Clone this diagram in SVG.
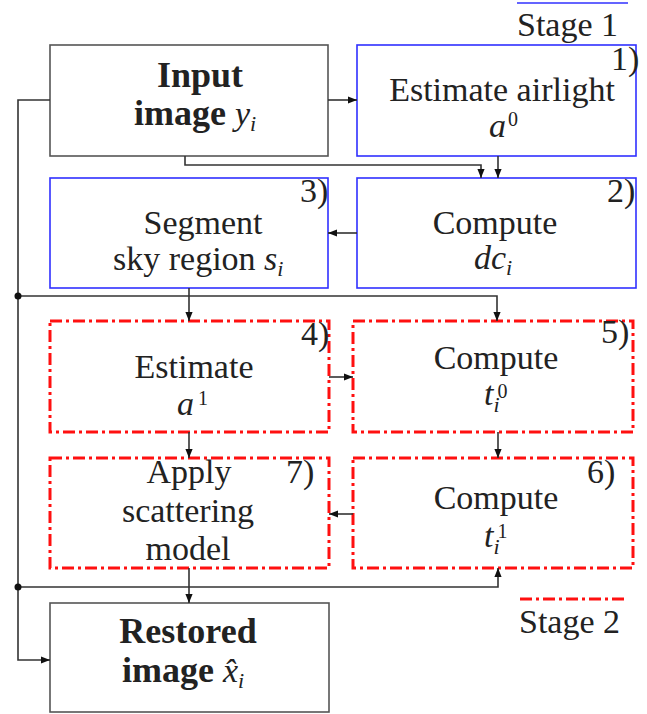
<svg xmlns="http://www.w3.org/2000/svg" width="647" height="714" viewBox="0 0 647 714">
<style>
text{font-family:"Liberation Serif","DejaVu Serif",serif;font-size:34px;fill:#222}
.b{font-weight:bold;font-size:36px}
.m{font-style:italic;font-weight:normal}
.s{font-size:22px}
.p{font-size:20px}
.c{text-anchor:middle}
.blk{fill:#fff;stroke:#555;stroke-width:1.6}
.blu{fill:#fff;stroke:#3030ff;stroke-width:1.6}
.red{fill:none;stroke:#ff1010;stroke-width:3;stroke-dasharray:12 4 3 4}
.ln{fill:none;stroke:#333;stroke-width:1.6}
</style>
<defs>
<marker id="ah" viewBox="0 0 10 10" refX="10" refY="5" markerWidth="9" markerHeight="9" markerUnits="userSpaceOnUse" orient="auto">
<path d="M0,1 L10,5 L0,9 Z" fill="#111"/>
</marker>
</defs>

<g id="legend">
<line x1="517" y1="3" x2="628" y2="3" stroke="#3030ff" stroke-width="1.6"/>
<text x="517" y="36">Stage 1</text>
<line x1="520" y1="599" x2="628" y2="599" class="red"/>
<text x="519" y="633">Stage 2</text>
</g>

<g id="input">
<rect x="50" y="45" width="278" height="111" class="blk"/>
<text class="b c" x="200" y="87">Input</text>
<text class="b" x="134" y="125">image <tspan class="m" font-size="34">y</tspan><tspan class="m s" dy="6">i</tspan></text>
</g>

<g id="n1">
<rect x="357" y="45" width="279" height="111" class="blu"/>
<text x="611" y="70">1)</text>
<text class="c" x="502" y="101">Estimate airlight</text>
<text x="489" y="137"><tspan class="m">a</tspan><tspan class="p" dx="2" dy="-11">0</tspan></text>
</g>

<g id="n2">
<rect x="357" y="178" width="279" height="110" class="blu"/>
<text x="607" y="202">2)</text>
<text class="c" x="495" y="234">Compute</text>
<text x="474" y="269"><tspan class="m">dc</tspan><tspan class="m s" dy="6">i</tspan></text>
</g>

<g id="n3">
<rect x="50" y="178" width="278" height="110" class="blu"/>
<text x="300" y="202">3)</text>
<text class="c" x="203" y="234">Segment</text>
<text x="113" y="270">sky region <tspan class="m">s</tspan><tspan class="m s" dy="6">i</tspan></text>
</g>

<g id="n4">
<rect x="50" y="321" width="279" height="111" class="red"/>
<text x="301" y="345">4)</text>
<text class="c" x="194" y="378">Estimate</text>
<text x="177" y="415"><tspan class="m">a</tspan><tspan class="p" dx="4" dy="-10">1</tspan></text>
</g>

<g id="n5">
<rect x="353" y="321" width="280" height="111" class="red"/>
<text x="601" y="343">5)</text>
<text class="c" x="496" y="369">Compute</text>
<text x="484" y="405"><tspan class="m">t</tspan><tspan class="m s" dy="7">i</tspan><tspan class="p" dx="-2" dy="-14">0</tspan></text>
</g>

<g id="n6">
<rect x="353" y="458" width="280" height="110" class="red"/>
<text x="587" y="483">6)</text>
<text class="c" x="496" y="509">Compute</text>
<text x="484" y="547"><tspan class="m">t</tspan><tspan class="m s" dy="7">i</tspan><tspan class="p" dx="-2" dy="-16">1</tspan></text>
</g>

<g id="n7">
<rect x="50" y="458" width="279" height="110" class="red"/>
<text class="c" x="189" y="483">Apply</text>
<text x="286" y="483">7)</text>
<text class="c" x="188" y="522">scattering</text>
<text class="c" x="188" y="560">model</text>
</g>

<g id="restored">
<rect x="50" y="603" width="279" height="109" class="blk"/>
<text class="b c" x="188" y="643">Restored</text>
<text class="b" x="122" y="682">image <tspan class="m" font-size="34">x̂</tspan><tspan class="m s" dy="6">i</tspan></text>
</g>

<g id="connectors">
<line x1="328" y1="100" x2="357" y2="100" class="ln" marker-end="url(#ah)"/>
<line x1="498" y1="156" x2="498" y2="178" class="ln" marker-end="url(#ah)"/>
<path d="M185 156 V165 H481 V178" class="ln" marker-end="url(#ah)"/>
<line x1="357" y1="233" x2="328" y2="233" class="ln" marker-end="url(#ah)"/>
<line x1="189" y1="288" x2="189" y2="321" class="ln" marker-end="url(#ah)"/>
<path d="M18 296 H497 V321" class="ln" marker-end="url(#ah)"/>
<path d="M50 100 H18 V660 H50" class="ln" marker-end="url(#ah)"/>
<line x1="329" y1="377" x2="353" y2="377" class="ln" marker-end="url(#ah)"/>
<line x1="189" y1="432" x2="189" y2="458" class="ln" marker-end="url(#ah)"/>
<line x1="498" y1="432" x2="498" y2="458" class="ln" marker-end="url(#ah)"/>
<line x1="353" y1="514" x2="329" y2="514" class="ln" marker-end="url(#ah)"/>
<line x1="189" y1="568" x2="189" y2="603" class="ln" marker-end="url(#ah)"/>
<path d="M18 587 H498 V568" class="ln" marker-end="url(#ah)"/>
<circle cx="18" cy="296" r="3.5" fill="#111"/>
<circle cx="18" cy="587" r="3.5" fill="#111"/>
</g>
</svg>
